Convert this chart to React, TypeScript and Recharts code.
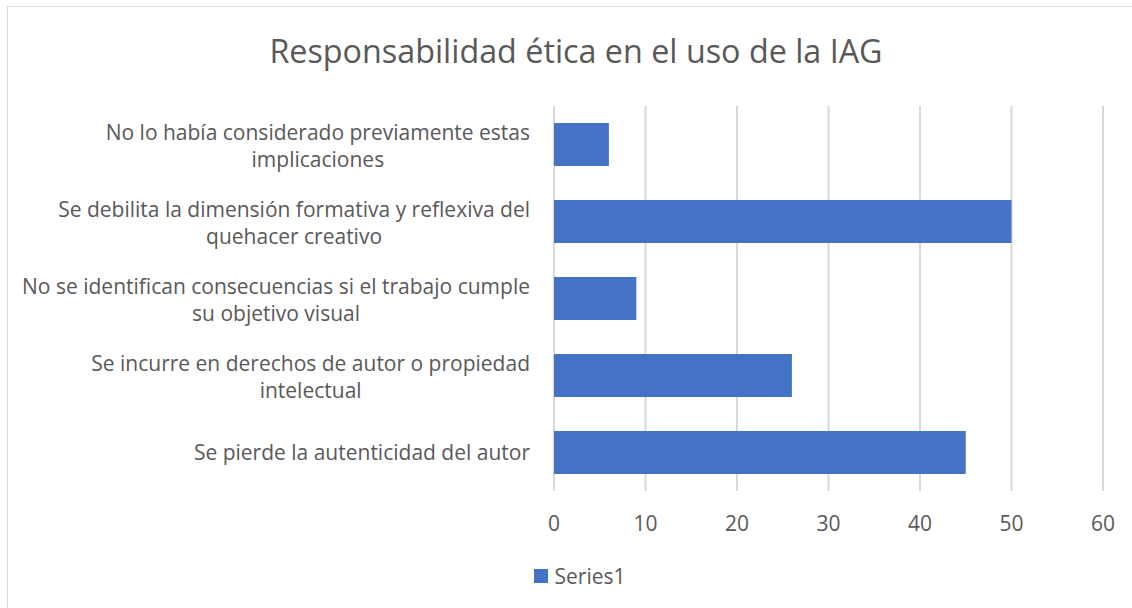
import React from 'react';
import { BarChart, Bar, XAxis, YAxis, CartesianGrid, Legend } from 'recharts';

const chartTitle = 'Responsabilidad ética en el uso de la IAG';
const categories = [
  'No lo había considerado previamente estas implicaciones',
  'Se debilita la dimensión formativa y reflexiva del quehacer creativo',
  'No se identifican consecuencias si el trabajo cumple su objetivo visual',
  'Se incurre en derechos de autor o propiedad intelectual',
  'Se pierde la autenticidad del autor',
];
const categoryLines = [
  ['No lo había considerado previamente estas', 'implicaciones'],
  ['Se debilita la dimensión formativa y reflexiva del', 'quehacer creativo'],
  ['No se identifican consecuencias si el trabajo cumple', 'su objetivo visual'],
  ['Se incurre en derechos de autor o propiedad', 'intelectual'],
  ['Se pierde la autenticidad del autor'],
];
const values = [6, 50, 9, 26, 45];
const seriesName = 'Series1';
const xTicks = [0, 10, 20, 30, 40, 50, 60];

const data = categories.map((c, i) => ({ name: c, [seriesName]: values[i] }));

const FONT = '"Open Sans", sans-serif';
const TEXT = '#595959';
const BAR = '#4472c4';
const LABEL_SIZE = 21;
const LINE_H = 27;

let ctx: CanvasRenderingContext2D | null = null;
function measure(t: string): number {
  if (!ctx) {
    const c = document.createElement('canvas');
    ctx = c.getContext('2d');
  }
  if (!ctx) return t.length * 11;
  ctx.font = `${LABEL_SIZE}px "Open Sans"`;
  return ctx.measureText(t).width;
}

const CatTick = (props: any) => {
  const { x, y, payload } = props;
  const idx = categories.indexOf(payload.value);
  const lines = idx >= 0 ? categoryLines[idx] : [String(payload.value)];
  const maxW = Math.max(...lines.map((l) => measure(l)));
  const cx = x - maxW / 2;
  const startY = y + (lines.length > 1 ? 1.5 : 0) - ((lines.length - 1) * LINE_H) / 2;
  return (
    <text textAnchor="middle" fill={TEXT} fontSize={LABEL_SIZE} fontFamily={FONT}>
      {lines.map((l, i) => (
        <tspan key={i} x={cx} y={startY + i * LINE_H} dy="0.35em">
          {l}
        </tspan>
      ))}
    </text>
  );
};

const LegendContent = (props: any) => {
  const { payload } = props;
  return (
    <div style={{ display: 'flex', justifyContent: 'center', paddingLeft: 48 }}>
      {(payload || []).map((p: any, i: number) => (
        <div key={i} style={{ display: 'flex', alignItems: 'center' }}>
          <span style={{ width: 14, height: 14, background: p.color, display: 'inline-block', marginRight: 7 }} />
          <span style={{ color: TEXT, fontSize: LABEL_SIZE, fontFamily: FONT, lineHeight: '26px' }}>{p.value}</span>
        </div>
      ))}
    </div>
  );
};

export default function App() {
  return (
    <div style={{ position: 'absolute', left: 7, top: 6, width: 1125, height: 602, overflow: 'hidden' }}>
      <div
        style={{
          position: 'relative',
          width: 1140,
          height: 620,
          borderLeft: '1.5px solid #d9d9d9',
          borderTop: '1.5px solid #d9d9d9',
          boxSizing: 'border-box',
          background: '#fff',
        }}
      >
        <div
          style={{
            position: 'absolute',
            left: 0,
            top: 23,
            width: 1136,
            textAlign: 'center',
            fontFamily: FONT,
            fontSize: 32.3,
            color: TEXT,
            lineHeight: '40px',
          }}
        >
          {chartTitle}
        </div>
        <BarChart
          width={1136}
          height={602}
          data={data}
          layout="vertical"
          margin={{ top: 99, right: 41, left: 0, bottom: 20 }}
          barCategoryGap="22%"
        >
          <CartesianGrid horizontal={false} stroke="#d9d9d9" strokeWidth={2} />
          <XAxis
            type="number"
            domain={[0, 60]}
            ticks={xTicks}
            axisLine={false}
            tickLine={false}
            tickMargin={19}
            height={72}
            tick={{ fill: TEXT, fontSize: LABEL_SIZE, fontFamily: FONT }}
          />
          <YAxis
            type="category"
            dataKey="name"
            width={546}
            axisLine={false}
            tickLine={false}
            tickMargin={18}
            tick={<CatTick />}
            interval={0}
          />
          <Legend verticalAlign="bottom" content={<LegendContent />} />
          <Bar dataKey={seriesName} fill={BAR} isAnimationActive={false} />
        </BarChart>
      </div>
    </div>
  );
}
